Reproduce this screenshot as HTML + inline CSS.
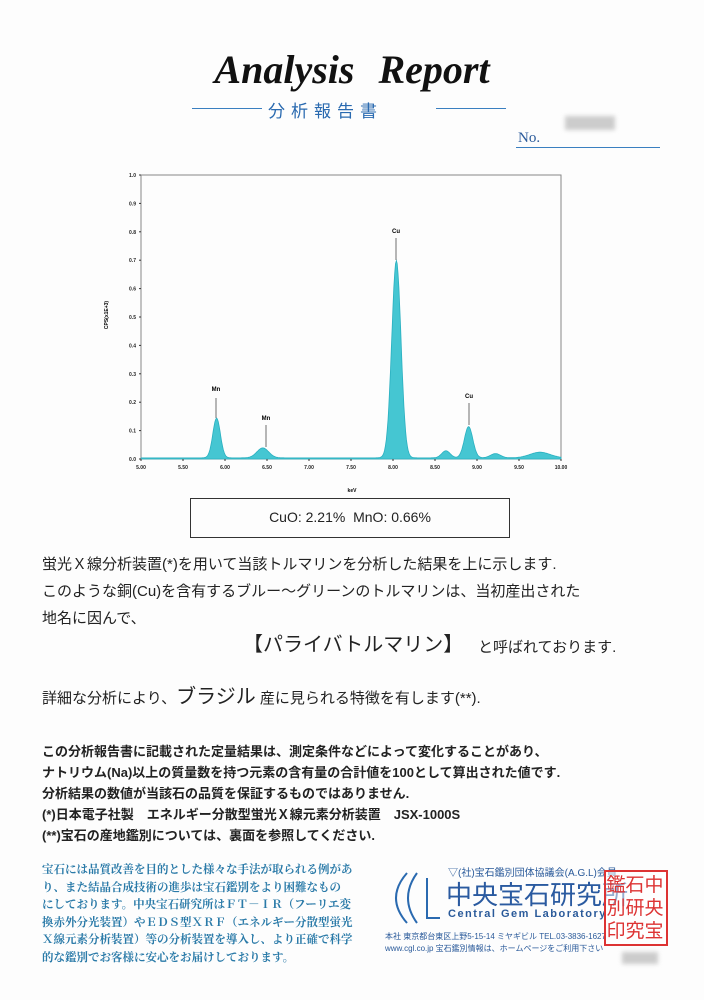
<!DOCTYPE html>
<html><head><meta charset="utf-8"><style>
body{margin:0;width:704px;height:1000px;background:#fdfdfd;position:relative;overflow:hidden;font-family:"Liberation Sans","Noto Sans CJK JP",sans-serif;color:#222}
.a{position:absolute;white-space:nowrap}
.j{font-family:"Liberation Sans","Noto Sans CJK JP",sans-serif}
.s{font-family:"Liberation Serif","Noto Serif CJK SC",serif}
.seal span{position:absolute;width:20px;height:23px;font-size:19px;line-height:23px;text-align:center;color:#d33}
</style></head><body>
<div class="a s" style="left:0;width:704px;text-align:center;top:46px;font-size:40px;font-style:italic;font-weight:bold;color:#111;word-spacing:14px">Analysis Report</div>
<div class="a" style="left:192px;top:108px;width:70px;border-top:1px solid #3a7fc0"></div>
<div class="a" style="left:436px;top:108px;width:70px;border-top:1px solid #3a7fc0"></div>
<div class="a j" style="left:268px;top:97px;font-size:17px;letter-spacing:6px;color:#2a6ab0">分析報告書</div>
<div class="a s" style="left:518px;top:130px;font-size:15px;color:#2a5a9a">No.</div>
<div class="a" style="left:516px;top:147px;width:144px;border-top:1px solid #3a7fc0"></div>
<div class="a" style="left:565px;top:116px;width:50px;height:14px;background:#ccc;filter:blur(2px)"></div>

<svg class="a" style="left:0;top:0" width="704" height="500" id="ch">
<rect x="141" y="175" width="420" height="284" fill="none" stroke="#888" stroke-width="1"/>
<path id="pk" fill="#45c6d2" stroke="#2ab0c0" stroke-width="0.8"/>
<g font-size="5" fill="#222" font-weight="bold" id="lab"></g>
<text x="352" y="492" font-size="5" text-anchor="middle" font-weight="bold">keV</text>
<text x="0" y="0" font-size="5" transform="translate(108,315) rotate(-90)" text-anchor="middle" font-weight="bold">CPS(x1E+3)</text>
<g stroke="#333" stroke-width="0.7">
<line x1="216" y1="398" x2="216" y2="418"/><line x1="266" y1="425" x2="266" y2="447"/>
<line x1="396" y1="238" x2="396" y2="260"/><line x1="469" y1="403" x2="469" y2="425"/>
</g>
<g font-size="6" font-weight="bold" text-anchor="middle">
<text x="216" y="391">Mn</text><text x="266" y="420">Mn</text><text x="396" y="233">Cu</text><text x="469" y="398">Cu</text>
</g>
</svg>
<script>
(function(){
var X=function(k){return 141+(k-5)*84},Y=function(v){return 459-v*284};
var pk=[[5.9,0.14,0.045],[6.45,0.035,0.07],[8.04,0.695,0.055],[8.63,0.025,0.05],[8.9,0.11,0.05],[9.22,0.015,0.06],[9.75,0.02,0.12]];
var d="M"+X(5)+" "+Y(0);
for(var k=5;k<=10.0001;k+=0.01){var v=0.004;pk.forEach(function(p){v+=p[1]*Math.exp(-Math.pow((k-p[0])/p[2],2)/2)});d+=" L"+X(k).toFixed(1)+" "+Y(v).toFixed(1);}
d+=" L"+X(10)+" "+Y(0)+" Z";document.getElementById('pk').setAttribute('d',d);
var g=document.getElementById('lab'),h="";
for(var i=0;i<=10;i++){var y=Y(i/10);h+='<text x="136" y="'+(y+2)+'" text-anchor="end">'+(i/10).toFixed(1)+'</text><line x1="139" x2="141" y1="'+y+'" y2="'+y+'" stroke="#333"/>';}
for(var i=0;i<=10;i++){var k=5+i*0.5,x=X(k);h+='<text x="'+x+'" y="469" text-anchor="middle">'+k.toFixed(2)+'</text><line x1="'+x+'" x2="'+x+'" y1="459" y2="461" stroke="#333"/>';}
g.innerHTML=h;
})();
</script>
<div class="a" style="left:190px;top:498px;width:318px;height:38px;border:1.5px solid #333"></div>
<div class="a" style="left:190px;top:509px;width:320px;text-align:center;font-size:14px">CuO: 2.21% &nbsp;MnO: 0.66%</div>

<div class="a j" style="left:42px;top:553px;font-size:15px">蛍光Ｘ線分析装置(*)を用いて当該トルマリンを分析した結果を上に示します.</div>
<div class="a j" style="left:42px;top:580px;font-size:15px">このような銅(Cu)を含有するブルー～グリーンのトルマリンは、当初産出された</div>
<div class="a j" style="left:42px;top:607px;font-size:15px">地名に因んで、</div>
<div class="a j" style="left:243px;top:628px;font-size:20px">【パライバトルマリン】</div>
<div class="a j" style="left:478px;top:636px;font-size:15px">と呼ばれております.</div>
<div class="a j" style="left:42px;top:680px;font-size:15px">詳細な分析により、<span style="font-size:20px">ブラジル</span> 産に見られる特徴を有します(**).</div>

<div class="a j" style="left:42px;top:741px;font-size:13px;font-weight:bold;line-height:21px">この分析報告書に記載された定量結果は、測定条件などによって変化することがあり、<br>ナトリウム(Na)以上の質量数を持つ元素の含有量の合計値を100として算出された値です.<br>分析結果の数値が当該石の品質を保証するものではありません.<br>(*)日本電子社製　エネルギー分散型蛍光Ｘ線元素分析装置　JSX-1000S<br>(**)宝石の産地鑑別については、裏面を参照してください.</div>

<div class="a s" style="left:42px;top:862px;font-size:11.5px;font-weight:bold;line-height:17.5px;color:#2a7aa8">宝石には品質改善を目的とした様々な手法が取られる例があ<br>り、また結晶合成技術の進歩は宝石鑑別をより困難なもの<br>にしております。中央宝石研究所はＦＴ－ＩＲ（フーリエ変<br>換赤外分光装置）やＥＤＳ型ＸＲＦ（エネルギー分散型蛍光<br>Ｘ線元素分析装置）等の分析装置を導入し、より正確で科学<br>的な鑑別でお客様に安心をお届けしております。</div>

<svg class="a" style="left:385px;top:868px" width="60" height="60"><path d="M22 5 Q0 30 22 55 M32 5 Q14 30 32 55" fill="none" stroke="#2a6ab0" stroke-width="2"/><path d="M42 10 L42 50 L55 50" fill="none" stroke="#2a6ab0" stroke-width="2"/></svg>
<div class="a j" style="left:448px;top:864px;font-size:10px;color:#2a5a9a">▽(社)宝石鑑別団体協議会(A.G.L)会員</div>
<div class="a j" style="left:446px;top:875px;font-size:26px;color:#2a5aa0">中央宝石研究所</div>
<div class="a" style="left:448px;top:908px;font-size:11px;letter-spacing:1.5px;color:#2a5a9a;font-weight:bold">Central Gem Laboratory</div>
<div class="a j" style="left:385px;top:931px;font-size:8px;color:#2a5a9a;line-height:12px">本社 東京都台東区上野5-15-14 ミヤギビル TEL.03-3836-1627<br>www.cgl.co.jp 宝石鑑別情報は、ホームページをご利用下さい</div>
<div class="a j seal" style="left:604px;top:870px;width:60px;height:72px;border:2px solid #d33;background:rgba(255,255,255,0.5)">
<span style="left:38px;top:2px">中</span><span style="left:38px;top:25px">央</span><span style="left:38px;top:48px">宝</span>
<span style="left:19px;top:2px">石</span><span style="left:19px;top:25px">研</span><span style="left:19px;top:48px">究</span>
<span style="left:0;top:2px">鑑</span><span style="left:0;top:25px">別</span><span style="left:0;top:48px">印</span>
</div>
<div class="a" style="left:622px;top:952px;width:36px;height:12px;background:#ccc;filter:blur(2px)"></div>
</body></html>
